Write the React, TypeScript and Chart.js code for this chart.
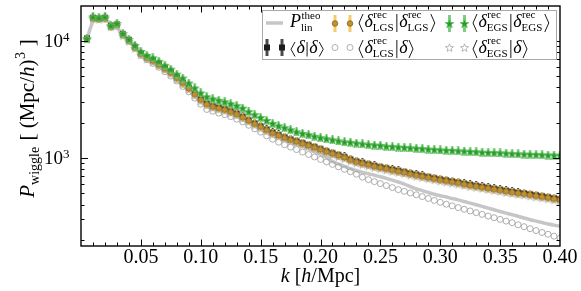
import React, { useEffect, useRef } from 'react';
import { Chart, registerables } from 'chart.js';
Chart.register(...registerables);

const K = [
  0.005, 0.010, 0.015, 0.020, 0.025, 0.030, 0.035, 0.040, 0.045, 0.050,
  0.055, 0.060, 0.065, 0.070, 0.075, 0.080, 0.085, 0.090, 0.095, 0.100,
  0.105, 0.110, 0.115, 0.120, 0.125, 0.130, 0.135, 0.140, 0.145, 0.150,
  0.155, 0.160, 0.165, 0.170, 0.175, 0.180, 0.185, 0.190, 0.195, 0.200,
  0.205, 0.210, 0.215, 0.220, 0.225, 0.230, 0.235, 0.240, 0.245, 0.250,
  0.255, 0.260, 0.265, 0.270, 0.275, 0.280, 0.285, 0.290, 0.295, 0.300,
  0.305, 0.310, 0.315, 0.320, 0.325, 0.330, 0.335, 0.340, 0.345, 0.350,
  0.355, 0.360, 0.365, 0.370, 0.375, 0.380, 0.385, 0.390, 0.395, 0.400,
];

const P_THEO = [
  10300, 14500, 15300, 15000, 14000, 12800, 11300, 10000, 8900, 8000,
  7075, 6600, 6120, 5660, 5180, 4700, 4230, 3810, 3390, 3010,
  2765, 2630, 2555, 2480, 2390, 2270, 2145, 2010, 1880, 1760,
  1640, 1550, 1480, 1420, 1365, 1310, 1255, 1200, 1130, 1075,
  1010, 935, 890, 850, 812, 782, 755, 735, 713, 692,
  670, 647, 624, 600, 571, 544, 528, 508, 491, 477,
  465, 452, 440, 426, 413, 400, 387, 374, 362, 350,
  339, 329, 319, 308, 298, 290, 282, 274, 268, 262,
];

const P_DD = [
  10390, 15600, 15400, 15600, 13300, 13700, 11300, 10100, 8820, 7780,
  7200, 6800, 6280, 5820, 5380, 4850, 4400, 3960, 3530, 3170,
  2900, 2760, 2680, 2600, 2500, 2390, 2250, 2100, 1970, 1860,
  1750, 1650, 1570, 1500, 1440, 1390, 1340, 1290, 1240, 1190,
  1140, 1100, 1060, 1020, 972, 935, 909, 883, 857, 836,
  817, 797, 778, 759, 738, 721, 704, 688, 672, 657,
  644, 631, 619, 604, 591, 580, 569, 558, 547, 537,
  526, 516, 507, 499, 490, 481, 472, 463, 454, 445,
];

const P_LGS_LGS = [
  10350, 15500, 15300, 15500, 13200, 13600, 11200, 10000, 8720, 7700,
  7120, 6720, 6210, 5750, 5310, 4790, 4350, 3910, 3490, 3130,
  2870, 2730, 2650, 2570, 2470, 2360, 2220, 2080, 1950, 1840,
  1730, 1630, 1555, 1485, 1425, 1375, 1325, 1277, 1228, 1178,
  1129, 1089, 1050, 1010, 962, 926, 900, 874, 849, 828,
  809, 789, 770, 751, 731, 714, 697, 681, 665, 650,
  638, 625, 613, 598, 585, 574, 563, 552, 542, 532,
  521, 511, 502, 494, 485, 476, 467, 458, 449, 441,
];

const P_LGS_D = [
  10300, 15500, 15300, 15500, 13200, 13600, 11200, 9900, 8560, 7480,
  6860, 6400, 5930, 5430, 4990, 4530, 4070, 3660, 3230, 2870,
  2590, 2500, 2410, 2340, 2250, 2140, 2030, 1900, 1770, 1660,
  1545, 1445, 1363, 1297, 1236, 1179, 1123, 1071, 1020, 972,
  926, 882, 841, 801, 763, 727, 686, 654, 629, 605,
  582, 560, 538, 520, 503, 486, 469, 452, 435, 419,
  404, 391, 378, 366, 354, 342, 331, 320, 310, 300,
  290, 281, 270, 260, 250, 241, 232, 224, 216, 208,
];

const P_EGS_EGS = [
  10400, 15900, 15600, 15900, 13400, 14000, 11500, 10250, 9080, 8080,
  7480, 7130, 6660, 6160, 5710, 5180, 4800, 4350, 3950, 3580,
  3320, 3190, 3100, 3010, 2900, 2790, 2660, 2480, 2340, 2210,
  2090, 1970, 1880, 1810, 1740, 1670, 1620, 1580, 1530, 1490,
  1460, 1430, 1400, 1370, 1360, 1340, 1320, 1300, 1290, 1280,
  1260, 1250, 1240, 1230, 1220, 1210, 1200, 1190, 1180, 1170,
  1165, 1160, 1150, 1145, 1135, 1130, 1120, 1115, 1110, 1105,
  1100, 1090, 1085, 1080, 1075, 1070, 1065, 1060, 1058, 1055,
];

const P_EGS_D = [
  10300, 15400, 15200, 15400, 13100, 13400, 11000, 9850, 8600, 7560,
  6990, 6590, 6090, 5640, 5210, 4700, 4260, 3840, 3420, 3070,
  2810, 2680, 2600, 2520, 2420, 2320, 2180, 2040, 1910, 1800,
  1700, 1600, 1525, 1455, 1395, 1350, 1300, 1252, 1204, 1155,
  1106, 1068, 1029, 990, 943, 907, 882, 857, 831, 811,
  792, 773, 755, 736, 716, 699, 683, 667, 652, 637,
  625, 612, 600, 586, 573, 563, 552, 541, 531, 521,
  510, 500, 492, 484, 475, 466, 458, 449, 440, 432,
];

const X_MIN = 0;
const X_MAX = 0.4;
const Y_MIN = 178;
const Y_MAX = 19700;
const X_TICKS = [0.05, 0.1, 0.15, 0.2, 0.25, 0.3, 0.35, 0.4];
const X_TICK_LABELS = ['0.05', '0.10', '0.15', '0.20', '0.25', '0.30', '0.35', '0.40'];
const Y_TICKS = [1000, 10000];
const Y_TICK_EXPONENTS = ['3', '4'];

const SERIF = '"Liberation Serif", "Times New Roman", serif';
const font = (size: number, it = false) => `${it ? 'italic ' : ''}${size}px ${SERIF}`;

type Seg =
  | { t: string; size: number; it?: boolean }
  | { sup: string; sub: string; size: number; up: number; down: number }
  | { br: '<' | '>' | '|'; top: number; bot: number };

function mathRun(ctx: CanvasRenderingContext2D, segs: Seg[], x: number, y: number, draw: boolean): number {
  let cx = x;
  for (const s of segs) {
    if ('t' in s) {
      ctx.font = font(s.size, !!s.it);
      if (draw) ctx.fillText(s.t, cx, y);
      cx += ctx.measureText(s.t).width;
    } else if ('sup' in s) {
      ctx.font = font(s.size);
      const w1 = s.sup ? ctx.measureText(s.sup).width : 0;
      const w2 = s.sub ? ctx.measureText(s.sub).width : 0;
      if (draw) {
        if (s.sup) ctx.fillText(s.sup, cx + 0.5, y - s.up);
        if (s.sub) ctx.fillText(s.sub, cx, y + s.down);
      }
      cx += Math.max(w1, w2) + 1;
    } else {
      const w = s.br === '|' ? 4.5 : 6.5;
      if (draw) {
        ctx.beginPath();
        ctx.lineWidth = 0.9;
        if (s.br === '<') {
          ctx.moveTo(cx + 5, y - s.top);
          ctx.lineTo(cx + 1, y - (s.top - s.bot) / 2);
          ctx.lineTo(cx + 5, y + s.bot);
        } else if (s.br === '>') {
          ctx.moveTo(cx + 1.5, y - s.top);
          ctx.lineTo(cx + 5.5, y - (s.top - s.bot) / 2);
          ctx.lineTo(cx + 1.5, y + s.bot);
        } else {
          ctx.moveTo(cx + 2.2, y - s.top);
          ctx.lineTo(cx + 2.2, y + s.bot);
        }
        ctx.stroke();
      }
      cx += w;
    }
  }
  return cx - x;
}

function mk(w: number, h: number, draw: (g: CanvasRenderingContext2D) => void) {
  const c = document.createElement('canvas');
  c.width = w;
  c.height = h;
  draw(c.getContext('2d') as CanvasRenderingContext2D);
  return c;
}

function starPath(g: CanvasRenderingContext2D, cx: number, cy: number, R: number, r: number) {
  g.beginPath();
  for (let i = 0; i < 10; i++) {
    const a = -Math.PI / 2 + (i * Math.PI) / 5;
    const rad = i % 2 === 0 ? R : r;
    const px = cx + rad * Math.cos(a);
    const py = cy + rad * Math.sin(a);
    if (i === 0) g.moveTo(px, py);
    else g.lineTo(px, py);
  }
  g.closePath();
}

function makeMarkers(barH: number, barW: number) {
  const black = mk(8, barH, (g) => {
    g.fillStyle = '#4a4a4a';
    g.fillRect(4 - barW / 2, 0, barW, barH);
    g.fillStyle = '#1c1c1c';
    g.fillRect(1, barH / 2 - 3, 6, 6);
  });
  const orange = mk(8, barH, (g) => {
    g.fillStyle = 'rgba(242,196,92,0.9)';
    g.fillRect(4 - barW / 2, 0, barW, barH);
    g.beginPath();
    g.arc(4, barH / 2, 2.8, 0, Math.PI * 2);
    g.fillStyle = '#bf912f';
    g.fill();
    g.strokeStyle = '#86641a';
    g.lineWidth = 0.8;
    g.stroke();
  });
  const green = mk(11, barH, (g) => {
    g.fillStyle = 'rgba(110,200,110,0.9)';
    g.fillRect(5.5 - barW / 2, 0, barW, barH);
    starPath(g, 5.5, barH / 2 + 0.5, 4.6, 1.9);
    g.fillStyle = '#2a982a';
    g.fill();
    g.strokeStyle = '#5cc05c';
    g.lineWidth = 0.8;
    g.stroke();
  });
  const grayStar = mk(11, 11, (g) => {
    starPath(g, 5.5, 6, 4.2, 1.8);
    g.fillStyle = '#ffffff';
    g.fill();
    g.strokeStyle = '#a6a6a6';
    g.lineWidth = 0.8;
    g.stroke();
  });
  return { black, orange, green, grayStar };
}

export default function App() {
  const ref = useRef<HTMLCanvasElement>(null);

  useEffect(() => {
    const canvas = ref.current;
    if (!canvas) return;
    const plotM = makeMarkers(9, 2);
    const legM = makeMarkers(17, 3);
    const pts = (ys: number[]) => K.map((k, i) => ({ x: k, y: ys[i] }));

    const rec = (g: string) => ({ sup: 'rec', sub: g, size: 11, up: 9, down: 3.5 } as Seg);
    const TB = { top: 13, bot: 5 };
    const SB = { top: 11, bot: 3.5 };
    const d = { t: 'δ', size: 18, it: true } as Seg;
    const legendItems: { x: number; row: number; marker: string; text: Seg[] }[] = [
      { x: 290, row: 0, marker: 'line', text: [{ t: 'P', size: 18, it: true }, { sup: 'theo', sub: 'lin', size: 11, up: 8.5, down: 4 }] },
      { x: 358, row: 0, marker: 'orange', text: [{ br: '<', ...TB }, d, rec('LGS'), { br: '|', ...TB }, d, rec('LGS'), { br: '>', ...TB }] },
      { x: 472, row: 0, marker: 'green', text: [{ br: '<', ...TB }, d, rec('EGS'), { br: '|', ...TB }, d, rec('EGS'), { br: '>', ...TB }] },
      { x: 290, row: 1, marker: 'black', text: [{ br: '<', ...SB }, d, { br: '|', ...SB }, d, { br: '>', ...SB }] },
      { x: 358, row: 1, marker: 'circle', text: [{ br: '<', ...TB }, d, rec('LGS'), { br: '|', ...TB }, d, { br: '>', ...TB }] },
      { x: 472, row: 1, marker: 'gstar', text: [{ br: '<', ...TB }, d, rec('EGS'), { br: '|', ...TB }, d, { br: '>', ...TB }] },
    ];

    const deco = {
      id: 'deco',
      afterDraw(chart: any) {
        const { ctx, chartArea } = chart;
        const { left, right, top, bottom } = chartArea;
        const xs = chart.scales.x;
        const ys = chart.scales.y;
        ctx.save();
        ctx.strokeStyle = '#000';
        ctx.fillStyle = '#000';
        ctx.lineWidth = 1;
        ctx.beginPath();
        for (let i = 1; i < 40; i++) {
          const v = i / 100;
          const px = Math.round(xs.getPixelForValue(v)) + 0.5;
          const len = i % 5 === 0 ? 6.5 : 3.5;
          ctx.moveTo(px, bottom);
          ctx.lineTo(px, bottom - len);
          ctx.moveTo(px, top);
          ctx.lineTo(px, top + len);
        }
        for (const dec of [100, 1000, 10000]) {
          for (let m = 1; m <= 9; m++) {
            const v = m * dec;
            if (v < Y_MIN || v > Y_MAX) continue;
            const py = Math.round(ys.getPixelForValue(v)) + 0.5;
            const len = m === 1 ? 7 : 3.5;
            ctx.moveTo(left, py);
            ctx.lineTo(left + len, py);
            ctx.moveTo(right, py);
            ctx.lineTo(right - len, py);
          }
        }
        ctx.stroke();
        ctx.lineWidth = 1.4;
        ctx.strokeRect(left, top, right - left, bottom - top);

        ctx.font = font(20);
        ctx.textAlign = 'center';
        ctx.textBaseline = 'alphabetic';
        X_TICKS.forEach((v, i) => {
          ctx.fillText(X_TICK_LABELS[i], xs.getPixelForValue(v), 263);
        });
        ctx.textAlign = 'left';
        Y_TICKS.forEach((v, i) => {
          const py = ys.getPixelForValue(v);
          ctx.font = font(19);
          const w1 = ctx.measureText('10').width;
          ctx.font = font(13);
          const w2 = ctx.measureText(Y_TICK_EXPONENTS[i]).width;
          const x0 = 69.5 - w1 - w2;
          ctx.font = font(19);
          ctx.fillText('10', x0, py + 6.5);
          ctx.font = font(13);
          ctx.fillText(Y_TICK_EXPONENTS[i], x0 + w1, py + 0.5);
        });

        const xt: Seg[] = [{ t: 'k', size: 20, it: true }, { t: ' [', size: 20 }, { t: 'h', size: 20, it: true }, { t: '/Mpc]', size: 20 }];
        const xw = mathRun(ctx, xt, 0, 0, false);
        mathRun(ctx, xt, (left + right) / 2 - xw / 2, 282, true);

        const yt: Seg[] = [
          { t: 'P', size: 21, it: true },
          { sup: '', sub: 'wiggle', size: 14, up: 0, down: 5 },
          { t: ' [ (Mpc/', size: 21 },
          { t: 'h', size: 21, it: true },
          { t: ')', size: 21 },
          { sup: '3', sub: '', size: 14, up: 9, down: 0 },
          { t: ' ]', size: 21 },
        ];
        const yw = mathRun(ctx, yt, 0, 0, false);
        ctx.save();
        ctx.translate(34, 118.5);
        ctx.rotate(-Math.PI / 2);
        mathRun(ctx, yt, -yw / 2, 0, true);
        ctx.restore();

        ctx.fillStyle = '#fff';
        ctx.fillRect(262, 10, 294, 49.5);
        ctx.strokeStyle = '#a8a8a8';
        ctx.lineWidth = 1;
        ctx.strokeRect(262.5, 10.5, 294, 49);
        const rowBase = [27, 53];
        const rowMark = [23, 47.5];
        for (const it of legendItems) {
          const my = rowMark[it.row];
          const m1 = it.x - 23;
          const m2 = it.x - 8;
          if (it.marker === 'line') {
            ctx.strokeStyle = '#c6c6c6';
            ctx.lineWidth = 3.5;
            ctx.beginPath();
            ctx.moveTo(266, my);
            ctx.lineTo(283, my);
            ctx.stroke();
          } else if (it.marker === 'circle') {
            ctx.strokeStyle = '#9a9a9a';
            ctx.lineWidth = 0.8;
            for (const mx of [m1, m2]) {
              ctx.beginPath();
              ctx.arc(mx, my, 3, 0, Math.PI * 2);
              ctx.stroke();
            }
          } else {
            const img =
              it.marker === 'black' ? legM.black : it.marker === 'orange' ? legM.orange : it.marker === 'green' ? legM.green : legM.grayStar;
            for (const mx of [m1, m2]) ctx.drawImage(img, Math.round(mx - img.width / 2), Math.round(my - img.height / 2));
          }
          ctx.fillStyle = '#000';
          ctx.strokeStyle = '#000';
          mathRun(ctx, it.text, it.x, rowBase[it.row], true);
        }
        ctx.restore();
      },
    };

    const chart = new Chart(canvas, {
      type: 'scatter',
      data: {
        datasets: [
          { label: 'EGS|EGS', data: pts(P_EGS_EGS), pointStyle: plotM.green as any, pointRadius: 5, showLine: false, order: 0 },
          { label: 'LGS|LGS', data: pts(P_LGS_LGS), pointStyle: plotM.orange as any, pointRadius: 4, showLine: false, order: 1 },
          { label: 'EGS|d', data: pts(P_EGS_D), pointStyle: plotM.grayStar as any, pointRadius: 4, showLine: false, order: 2 },
          {
            label: 'LGS|d',
            data: pts(P_LGS_D),
            pointStyle: 'circle',
            pointRadius: 3,
            pointBorderWidth: 0.8,
            pointBorderColor: '#9a9a9a',
            pointBackgroundColor: 'rgba(255,255,255,0)',
            showLine: false,
            order: 3,
          },
          { label: 'd|d', data: pts(P_DD), pointStyle: plotM.black as any, pointRadius: 4, showLine: false, order: 4 },
          {
            label: 'theo',
            data: pts(P_THEO),
            showLine: true,
            borderColor: '#c6c6c6',
            borderWidth: 3.5,
            pointRadius: 0,
            cubicInterpolationMode: 'monotone',
            order: 5,
          },
        ] as any,
      },
      options: {
        animation: false,
        responsive: false,
        maintainAspectRatio: false,
        events: [],
        layout: { padding: { left: 81, right: 21, top: 3, bottom: 45 } },
        plugins: { legend: { display: false }, tooltip: { enabled: false } },
        scales: {
          x: { type: 'linear', min: X_MIN, max: X_MAX, display: false },
          y: { type: 'logarithmic', min: Y_MIN, max: Y_MAX, display: false },
        },
      },
      plugins: [deco],
    });
    return () => chart.destroy();
  }, []);

  return (
    <div style={{ position: 'absolute', left: 0, top: 0, width: 581, height: 291, background: '#fff' }}>
      <canvas ref={ref} width={581} height={291} style={{ display: 'block', width: 581, height: 291 }} />
    </div>
  );
}
